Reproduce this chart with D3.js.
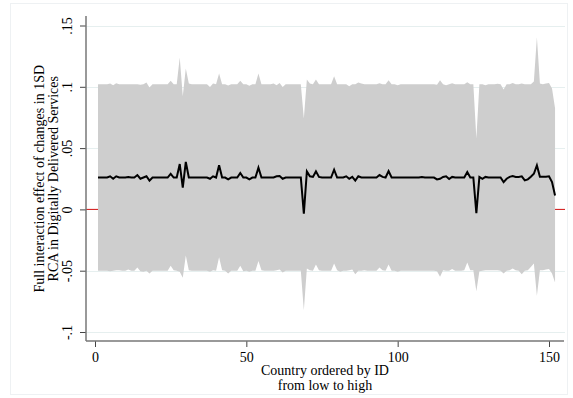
<!DOCTYPE html>
<html>
<head>
<meta charset="utf-8">
<script src="https://cdn.jsdelivr.net/npm/d3@7"></script>
<style>
  html, body { margin: 0; padding: 0; background: #fff; }
  svg { display: block; }
  text { font-family: "Liberation Serif", "Times New Roman", serif; fill: #000; }
</style>
</head>
<body>
<script>
// Country IDs 1..152 (x), marginal effect estimate and its confidence bounds
const countryIds = d3.range(1, 153);

const estimate = [
  0.026, 0.026, 0.026, 0.026, 0.027, 0.025, 0.027, 0.026, 0.026, 0.026,
  0.0265, 0.026, 0.026, 0.028, 0.025, 0.026, 0.027, 0.0235, 0.026, 0.026,
  0.026, 0.026, 0.026, 0.026, 0.029, 0.026, 0.026, 0.037, 0.0177, 0.0387,
  0.026, 0.026, 0.026, 0.026, 0.026, 0.026, 0.026, 0.025, 0.027, 0.026,
  0.036, 0.026, 0.026, 0.0245, 0.026, 0.026, 0.026, 0.0297, 0.026, 0.026,
  0.0245, 0.026, 0.026, 0.0341, 0.026, 0.026, 0.026, 0.026, 0.026, 0.027,
  0.0272, 0.025, 0.026, 0.026, 0.026, 0.026, 0.026, 0.026, -0.0035, 0.031,
  0.027, 0.0265, 0.031, 0.0265, 0.026, 0.026, 0.026, 0.026, 0.0324, 0.026,
  0.026, 0.026, 0.027, 0.025, 0.0265, 0.0235, 0.027, 0.026, 0.026, 0.026,
  0.026, 0.026, 0.026, 0.028, 0.0265, 0.026, 0.0313, 0.026, 0.026, 0.026,
  0.026, 0.026, 0.026, 0.026, 0.026, 0.026, 0.026, 0.0265, 0.026, 0.026,
  0.026, 0.026, 0.0245, 0.025, 0.0265, 0.027, 0.0248, 0.0265, 0.026, 0.026,
  0.026, 0.026, 0.0305, 0.026, 0.026, -0.003, 0.0265, 0.025, 0.0265, 0.026,
  0.026, 0.026, 0.026, 0.026, 0.0223, 0.025, 0.0265, 0.0272, 0.0265, 0.0265,
  0.027, 0.0237, 0.0245, 0.0267, 0.0291, 0.0359, 0.0267, 0.0267, 0.0267, 0.027,
  0.0223, 0.0114
];

const upperBound = [
  0.102, 0.102, 0.102, 0.102, 0.1027, 0.1013, 0.1029, 0.102, 0.102, 0.102,
  0.102, 0.102, 0.102, 0.102, 0.1016, 0.102, 0.1035, 0.0994, 0.102, 0.102,
  0.102, 0.102, 0.102, 0.102, 0.1049, 0.102, 0.102, 0.1239, 0.0923, 0.1149,
  0.1027, 0.102, 0.102, 0.102, 0.102, 0.102, 0.102, 0.0999, 0.1027, 0.102,
  0.1108, 0.102, 0.102, 0.101, 0.102, 0.102, 0.102, 0.1049, 0.102, 0.102,
  0.1008, 0.102, 0.102, 0.1108, 0.102, 0.102, 0.102, 0.102, 0.1027, 0.1013,
  0.1032, 0.0999, 0.102, 0.102, 0.102, 0.102, 0.102, 0.102, 0.0741, 0.1059,
  0.1027, 0.102, 0.1059, 0.102, 0.102, 0.102, 0.102, 0.102, 0.1087, 0.102,
  0.102, 0.102, 0.102, 0.1005, 0.1021, 0.102, 0.1035, 0.1027, 0.102, 0.102,
  0.102, 0.102, 0.102, 0.1029, 0.102, 0.102, 0.1054, 0.102, 0.102, 0.1013,
  0.102, 0.102, 0.102, 0.102, 0.102, 0.102, 0.102, 0.102, 0.102, 0.102,
  0.102, 0.102, 0.1016, 0.1054, 0.1021, 0.1013, 0.102, 0.1029, 0.102, 0.102,
  0.102, 0.102, 0.1038, 0.102, 0.102, 0.0578, 0.102, 0.102, 0.1013, 0.102,
  0.102, 0.102, 0.1024, 0.102, 0.0978, 0.102, 0.1021, 0.1032, 0.102, 0.102,
  0.1027, 0.102, 0.1021, 0.102, 0.1043, 0.1405, 0.1027, 0.102, 0.1027, 0.1032,
  0.0986, 0.0825
];

const lowerBound = [
  -0.0501, -0.0501, -0.0501, -0.0501, -0.0504, -0.050, -0.0496, -0.0496, -0.050, -0.050,
  -0.049, -0.0501, -0.050, -0.0474, -0.0504, -0.0509, -0.050, -0.0523, -0.0501, -0.0501,
  -0.0501, -0.0501, -0.0501, -0.0501, -0.046, -0.0496, -0.050, -0.0509, -0.0558, -0.0376,
  -0.0496, -0.050, -0.050, -0.050, -0.050, -0.050, -0.050, -0.0509, -0.0496, -0.050,
  -0.039, -0.0496, -0.050, -0.0523, -0.050, -0.050, -0.050, -0.046, -0.0504, -0.050,
  -0.0509, -0.050, -0.050, -0.042, -0.0496, -0.050, -0.050, -0.050, -0.050, -0.0496,
  -0.049, -0.0515, -0.0501, -0.0501, -0.0501, -0.0501, -0.0501, -0.0501, -0.0823, -0.0482,
  -0.0496, -0.050, -0.0449, -0.0496, -0.050, -0.0501, -0.0501, -0.0501, -0.0441, -0.0496,
  -0.0509, -0.050, -0.050, -0.0496, -0.049, -0.0528, -0.0501, -0.050, -0.0496, -0.050,
  -0.050, -0.050, -0.050, -0.0474, -0.0496, -0.050, -0.0449, -0.0501, -0.050, -0.0509,
  -0.050, -0.0501, -0.050, -0.050, -0.050, -0.050, -0.050, -0.050, -0.050, -0.050,
  -0.050, -0.050, -0.0504, -0.055, -0.0496, -0.050, -0.0501, -0.0487, -0.050, -0.0501,
  -0.050, -0.0496, -0.0433, -0.0496, -0.0496, -0.0667, -0.0504, -0.050, -0.0496, -0.0496,
  -0.0496, -0.0496, -0.0496, -0.050, -0.0523, -0.050, -0.0496, -0.0482, -0.0496, -0.050,
  -0.0528, -0.050, -0.0496, -0.047, -0.0441, -0.0705, -0.0496, -0.0496, -0.049, -0.0487,
  -0.0523, -0.0597
];

const yTickValues = [-0.1, -0.05, 0, 0.05, 0.1, 0.15];
const yTickLabels = ["-.1", "-.05", "0", ".05", ".1", ".15"];
const xTickValues = [0, 50, 100, 150];
const xTickLabels = ["0", "50", "100", "150"];

const yTitleLines = ["Full interaction effect of changes in 1SD", "RCA in Digitally Delivered Services"];
const xTitleLines = ["Country ordered by ID", "from low to high"];

const W = 573, H = 398;
const plotLeft = 86, plotRight = 565, plotBottom = 341, plotTop = 16;

const svg = d3.select("body").append("svg")
  .attr("width", W).attr("height", H);

// outer graph region outline
svg.append("rect")
  .attr("x", 10.5).attr("y", 3.5)
  .attr("width", 557).attr("height", 391)
  .attr("fill", "none").attr("stroke", "#eef1f3").attr("stroke-width", 1);

const x = d3.scaleLinear().domain([0, 150]).range([95, 549]);
const y = d3.scaleLinear().domain([-0.1, 0.15]).range([332, 25.5]);

const rows = countryIds.map((id, i) => ({
  id, est: estimate[i], lo: lowerBound[i], hi: upperBound[i]
}));

// horizontal grid lines
svg.append("g").selectAll("line")
  .data(yTickValues.filter(v => v !== 0))
  .join("line")
  .attr("x1", plotLeft).attr("x2", plotRight)
  .attr("y1", d => Math.round(y(d)) + 0.5).attr("y2", d => Math.round(y(d)) + 0.5)
  .attr("stroke", "#e6efef").attr("stroke-width", 1);

// reference line at zero
svg.append("line")
  .attr("x1", plotLeft).attr("x2", plotRight)
  .attr("y1", y(0)).attr("y2", y(0))
  .attr("stroke", "#d01010").attr("stroke-width", 1);

// confidence band
const band = d3.area()
  .x(d => x(d.id))
  .y0(d => y(d.lo))
  .y1(d => y(d.hi));
svg.append("path")
  .datum(rows)
  .attr("d", band)
  .attr("fill", "#cecece")
  .attr("stroke", "none");

// point estimate
const line = d3.line()
  .x(d => x(d.id))
  .y(d => y(d.est));
svg.append("path")
  .datum(rows)
  .attr("d", line)
  .attr("fill", "none")
  .attr("stroke", "#000")
  .attr("stroke-width", 2)
  .attr("stroke-linejoin", "miter");

// y axis
const yAxis = d3.axisLeft(y)
  .tickValues(yTickValues)
  .tickSize(6)
  .tickPadding(6)
  .tickFormat((d, i) => yTickLabels[i]);
const gy = svg.append("g")
  .attr("transform", `translate(${plotLeft},0)`)
  .call(yAxis);
gy.select(".domain").remove();
gy.selectAll(".tick line").attr("stroke", "#444");
gy.selectAll(".tick text")
  .attr("font-family", "Liberation Serif")
  .attr("font-size", 14)
  .attr("text-anchor", "middle")
  .attr("dy", 0)
  .attr("x", 0)
  .attr("transform", "translate(-14,0) rotate(-90)");
gy.append("line")
  .attr("x1", 0).attr("x2", 0)
  .attr("y1", plotTop).attr("y2", plotBottom)
  .attr("stroke", "#777").attr("stroke-width", 1.5);

// x axis
const xAxis = d3.axisBottom(x)
  .tickValues(xTickValues)
  .tickSize(6)
  .tickPadding(6)
  .tickFormat((d, i) => xTickLabels[i]);
const gx = svg.append("g")
  .attr("transform", `translate(0,${plotBottom})`)
  .call(xAxis);
gx.select(".domain").remove();
gx.selectAll(".tick line").attr("stroke", "#444");
gx.selectAll(".tick text")
  .attr("font-family", "Liberation Serif")
  .attr("font-size", 14)
  .attr("dy", 0)
  .attr("y", 21);
gx.append("line")
  .attr("x1", plotLeft).attr("x2", plotRight - 1)
  .attr("y1", 0).attr("y2", 0)
  .attr("stroke", "#777").attr("stroke-width", 1.5);

// axis titles
const xt = svg.append("text")
  .attr("text-anchor", "middle")
  .attr("font-size", 14);
xTitleLines.forEach((t, i) => {
  xt.append("tspan").attr("x", 325).attr("y", 375 + i * 15).text(t);
});

const yt = svg.append("text")
  .attr("text-anchor", "middle")
  .attr("font-size", 14)
  .attr("transform", `translate(0,${(25.5 + 332) / 2}) rotate(-90)`);
yTitleLines.forEach((t, i) => {
  yt.append("tspan").attr("x", 0).attr("y", 44 + i * 14).text(t);
});
</script>
</body>
</html>
